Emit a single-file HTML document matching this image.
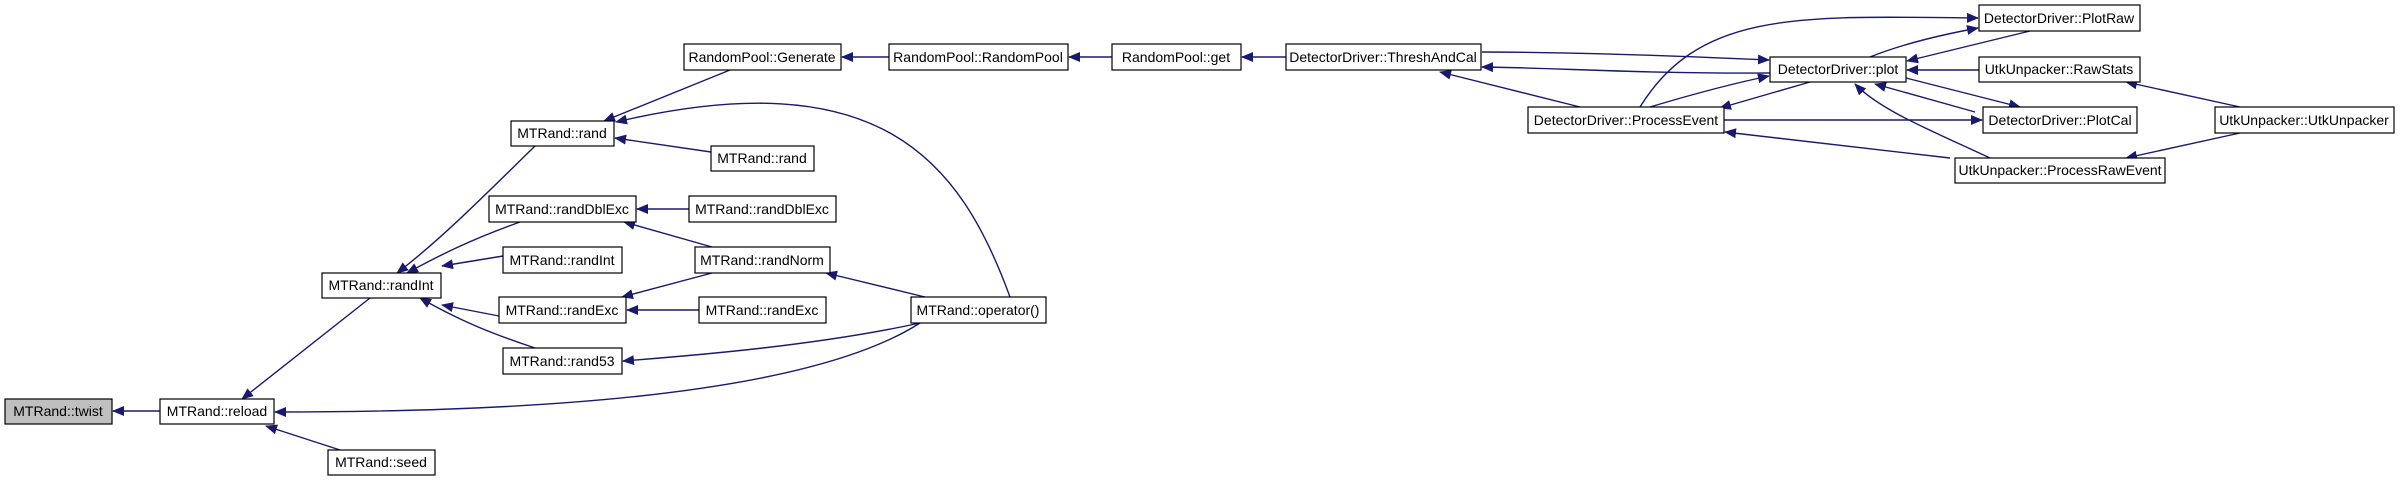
<!DOCTYPE html>
<html><head><meta charset="utf-8"><style>
html,body{margin:0;padding:0;background:#fff;}
svg{display:block;}
text{font-family:"Liberation Sans",Arial,sans-serif;font-size:14px;fill:#000;}
</style></head><body>
<svg width="2400" height="481" viewBox="0 0 2400 481" xmlns="http://www.w3.org/2000/svg">
<defs>
<marker id="a" markerWidth="12" markerHeight="10" refX="11" refY="5" orient="auto" markerUnits="userSpaceOnUse">
<path d="M0,0 L12,5 L0,10 Z" fill="#191970"/>
</marker>
</defs>
<g fill="none" stroke="#191970" stroke-width="1.4" marker-end="url(#a)">
<path d="M160,411 L113,411"/>
<path d="M370,298 L242,399"/>
<path d="M920,323 C800,400 500,412 275,412"/>
<path d="M340,450 L266,426"/>
<path d="M535,146 C480,200 440,240 397,273"/>
<path d="M520,222 C470,240 440,255 407,273"/>
<path d="M503,256 L442,266"/>
<path d="M499,316 L442,305"/>
<path d="M535,348 C480,330 450,315 420,298"/>
<path d="M730,70 L604,121"/>
<path d="M1010,297 C960,160 880,60 616,122"/>
<path d="M711,152 L615,138"/>
<path d="M689,209 L637,209"/>
<path d="M712,247 L624,222"/>
<path d="M712,273 L622,297"/>
<path d="M699,310 L627,310"/>
<path d="M925,297 L826,273"/>
<path d="M920,323 C820,345 700,355 623,361"/>
<path d="M889,57 L842,57"/>
<path d="M1112,57 L1069,57"/>
<path d="M1286,57 L1242,57"/>
<path d="M1770,73 C1650,74 1560,68 1482,67"/>
<path d="M1482,52 C1570,52 1680,56 1769,60"/>
<path d="M1580,107 L1440,72"/>
<path d="M1650,107 C1700,92 1740,82 1769,76"/>
<path d="M1810,82 L1720,108"/>
<path d="M1640,107 C1700,10 1800,16 1978,18"/>
<path d="M1870,57 C1900,45 1940,35 1978,28"/>
<path d="M2030,31 L1907,61"/>
<path d="M1979,70 L1907,70"/>
<path d="M1906,78 L2020,107"/>
<path d="M1975,112 L1875,84"/>
<path d="M1724,120 L1982,120"/>
<path d="M1990,158 C1930,130 1880,110 1855,84"/>
<path d="M1950,158 L1725,132"/>
<path d="M2240,107 L2126,82"/>
<path d="M2240,133 L2126,158"/>
</g>
<g stroke="#000" stroke-width="1.2" fill="#fff">
<rect x="5" y="399" width="107" height="25" fill="#bfbfbf"/>
<rect x="160" y="399" width="114" height="25"/>
<rect x="322" y="273" width="119" height="25"/>
<rect x="328" y="450" width="107" height="25"/>
<rect x="511" y="121" width="103" height="25"/>
<rect x="711" y="146" width="103" height="25"/>
<rect x="489" y="196" width="147" height="26"/>
<rect x="689" y="196" width="147" height="26"/>
<rect x="503" y="247" width="119" height="26"/>
<rect x="695" y="247" width="135" height="26"/>
<rect x="499" y="297" width="127" height="26"/>
<rect x="699" y="297" width="127" height="26"/>
<rect x="911" y="297" width="135" height="26"/>
<rect x="503" y="348" width="119" height="26"/>
<rect x="684" y="44" width="157" height="26"/>
<rect x="889" y="44" width="179" height="26"/>
<rect x="1112" y="44" width="129" height="26"/>
<rect x="1286" y="44" width="195" height="26"/>
<rect x="1770" y="57" width="136" height="25"/>
<rect x="1979" y="5" width="161" height="26"/>
<rect x="1979" y="57" width="161" height="25"/>
<rect x="1528" y="107" width="196" height="26"/>
<rect x="1983" y="107" width="154" height="26"/>
<rect x="2215" y="107" width="179" height="26"/>
<rect x="1955" y="158" width="210" height="25"/>
</g>
<g text-anchor="middle">
<text x="58" y="416">MTRand::twist</text>
<text x="217" y="416">MTRand::reload</text>
<text x="381" y="290">MTRand::randInt</text>
<text x="381" y="467">MTRand::seed</text>
<text x="562" y="138">MTRand::rand</text>
<text x="762" y="163">MTRand::rand</text>
<text x="562" y="214">MTRand::randDblExc</text>
<text x="762" y="214">MTRand::randDblExc</text>
<text x="562" y="265">MTRand::randInt</text>
<text x="762" y="265">MTRand::randNorm</text>
<text x="562" y="315">MTRand::randExc</text>
<text x="762" y="315">MTRand::randExc</text>
<text x="978" y="315">MTRand::operator()</text>
<text x="562" y="366">MTRand::rand53</text>
<text x="762" y="62">RandomPool::Generate</text>
<text x="978" y="62">RandomPool::RandomPool</text>
<text x="1176" y="62">RandomPool::get</text>
<text x="1383" y="62">DetectorDriver::ThreshAndCal</text>
<text x="1838" y="74">DetectorDriver::plot</text>
<text x="2059" y="23">DetectorDriver::PlotRaw</text>
<text x="2059" y="74">UtkUnpacker::RawStats</text>
<text x="1626" y="125">DetectorDriver::ProcessEvent</text>
<text x="2060" y="125">DetectorDriver::PlotCal</text>
<text x="2304" y="125">UtkUnpacker::UtkUnpacker</text>
<text x="2060" y="175">UtkUnpacker::ProcessRawEvent</text>
</g>
</svg>
</body></html>
